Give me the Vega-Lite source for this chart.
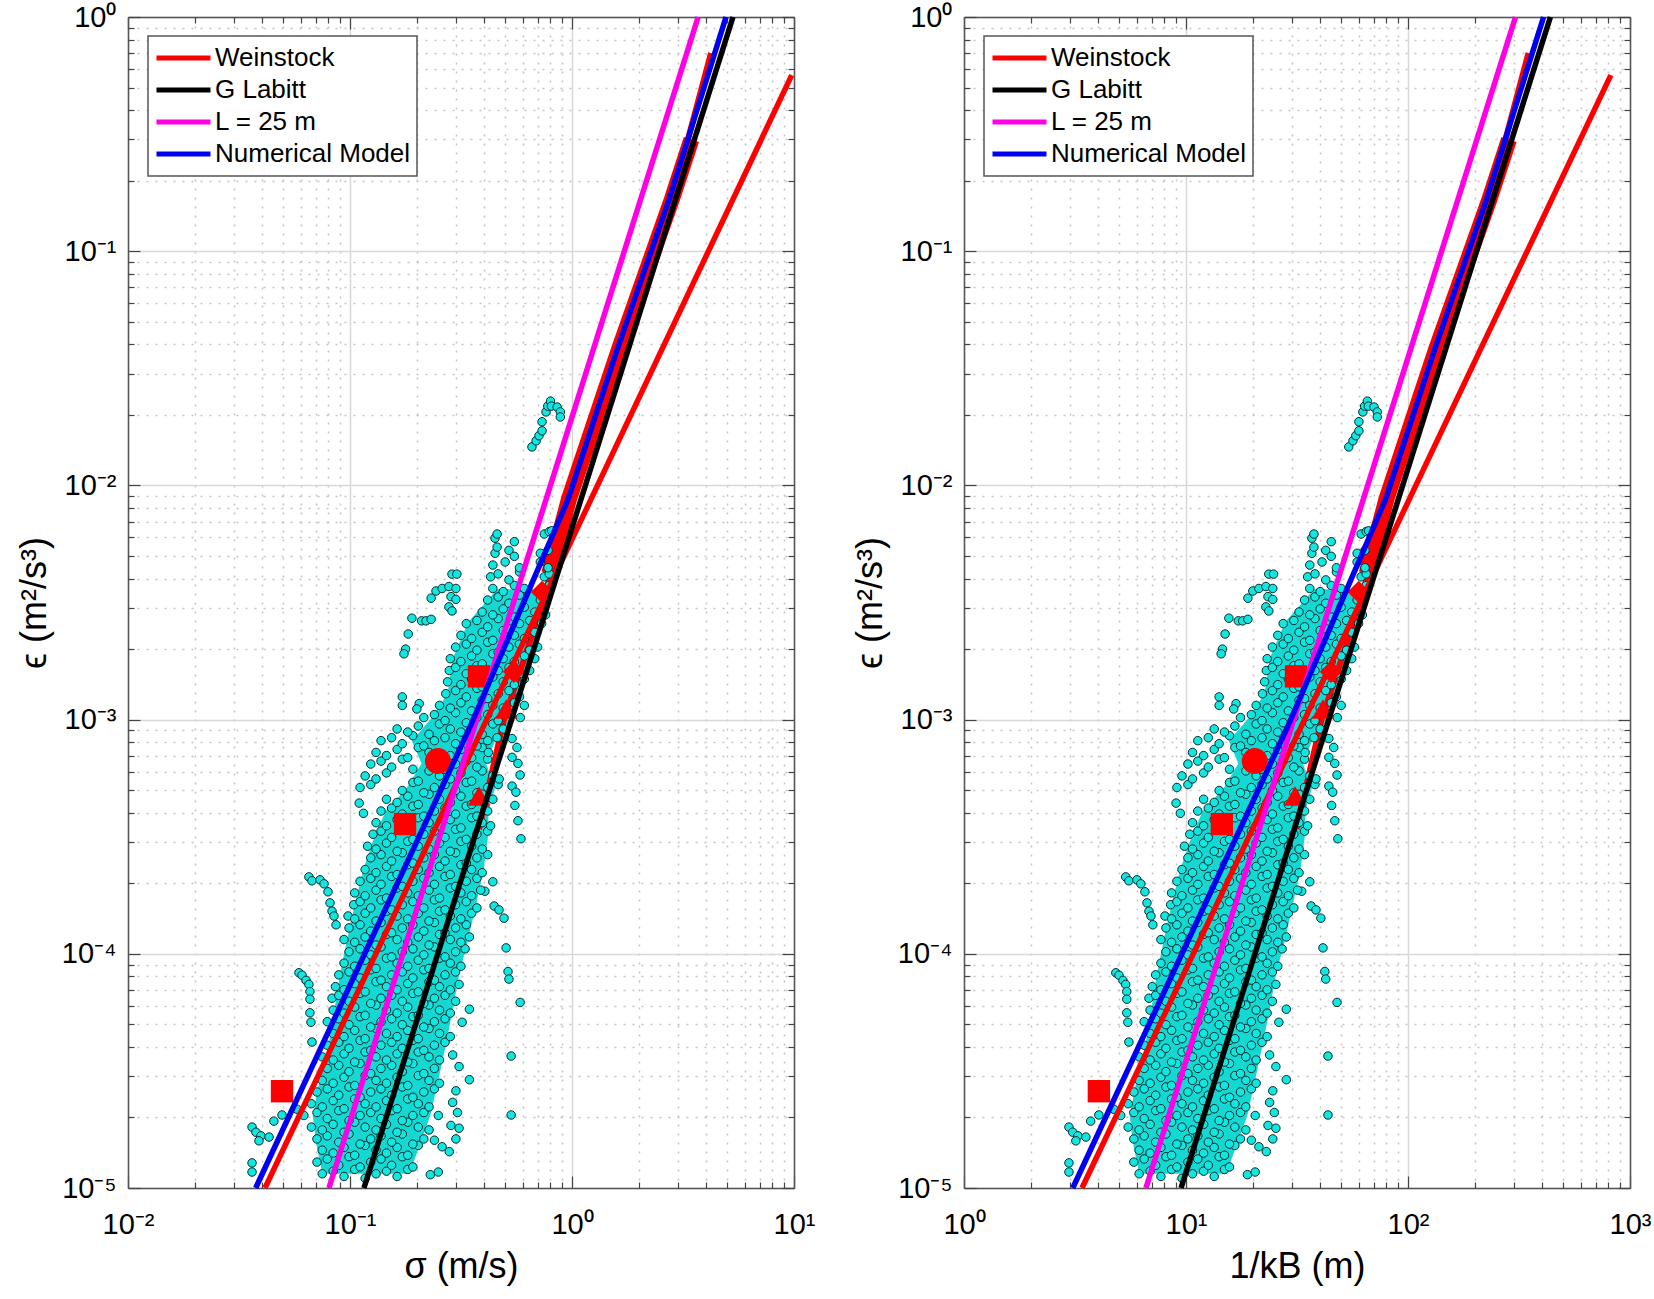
{"$schema":"https://vega.github.io/schema/vega-lite/v6.json","background":"white","padding":{"left":16,"top":3,"right":5,"bottom":2},"spacing":37,
"config":{"view":{"stroke":null},"font":"Liberation Sans","legend":{"strokeWidth":1.5},"axis":{"labelFont":"Liberation Sans","titleFont":"Liberation Sans","labelColor":"black","titleColor":"black"}},
"datasets":{
"env":[{"e":1.15e-5,"s1":0.075,"k1":6.15,"s2":0.185,"k2":15.2},{"e":1.6e-5,"s1":0.07,"k1":5.74,"s2":0.21,"k2":17.2},{"e":2.04e-5,"s1":0.068,"k1":5.58,"s2":0.23,"k2":18.9},{"e":2.9e-5,"s1":0.073,"k1":5.99,"s2":0.25,"k2":20.5},{"e":4.07e-5,"s1":0.08,"k1":6.56,"s2":0.27,"k2":22.1},{"e":5.75e-5,"s1":0.085,"k1":6.97,"s2":0.29,"k2":23.8},{"e":8.1e-5,"s1":0.09,"k1":7.38,"s2":0.31,"k2":25.4},{"e":1.15e-4,"s1":0.097,"k1":7.95,"s2":0.34,"k2":27.9},{"e":1.62e-4,"s1":0.105,"k1":8.61,"s2":0.37,"k2":30.3},{"e":2.3e-4,"s1":0.115,"k1":9.43,"s2":0.4,"k2":32.8},{"e":3.24e-4,"s1":0.13,"k1":10.7,"s2":0.42,"k2":34.4},{"e":4.07e-4,"s1":0.145,"k1":11.9,"s2":0.42,"k2":34.4},{"e":5.1e-4,"s1":0.18,"k1":14.8,"s2":0.45,"k2":36.9},{"e":6.5e-4,"s1":0.21,"k1":17.2,"s2":0.41,"k2":33.6},{"e":8.1e-4,"s1":0.19,"k1":15.6,"s2":0.45,"k2":36.9},{"e":0.001,"s1":0.23,"k1":18.9,"s2":0.55,"k2":45.1},{"e":0.00129,"s1":0.275,"k1":22.6,"s2":0.58,"k2":47.6},{"e":0.00182,"s1":0.29,"k1":23.8,"s2":0.64,"k2":52.5},{"e":0.0026,"s1":0.34,"k1":27.9,"s2":0.7,"k2":57.4},{"e":0.0036,"s1":0.46,"k1":37.7,"s2":0.72,"k2":59}],
"pts":[
{"s":0.66,"k":54.1,"e":0.0146},{"s":0.689,"k":56.5,"e":0.0155},{"s":0.71,"k":58.2,"e":0.0163},{"s":0.733,"k":60.1,"e":0.0171},{"s":0.733,"k":60.1,"e":0.0187},{"s":0.764,"k":62.6,"e":0.0206},{"s":0.778,"k":63.8,"e":0.0218},{"s":0.8,"k":65.6,"e":0.0229},{"s":0.808,"k":66.3,"e":0.0218},{"s":0.857,"k":70.3,"e":0.0216},{"s":0.886,"k":72.7,"e":0.0206},{"s":0.886,"k":72.7,"e":0.0196},
{"s":0.232,"k":19,"e":0.0033},{"s":0.244,"k":20,"e":0.00354},{"s":0.26,"k":21.3,"e":0.00363},{"s":0.279,"k":22.9,"e":0.0037},{"s":0.288,"k":23.6,"e":0.00418},{"s":0.303,"k":24.8,"e":0.00418},{"s":0.3,"k":24.6,"e":0.00363},{"s":0.285,"k":23.4,"e":0.00335},{"s":0.3,"k":24.6,"e":0.00326},{"s":0.279,"k":22.9,"e":0.00303},{"s":0.288,"k":23.6,"e":0.00291},
{"s":0.19,"k":15.6,"e":0.00271},{"s":0.21,"k":17.2,"e":0.00264},{"s":0.22,"k":18,"e":0.00264},{"s":0.232,"k":19,"e":0.00268},{"s":0.183,"k":15,"e":0.00232},{"s":0.178,"k":14.6,"e":0.002},{"s":0.175,"k":14.4,"e":0.00191},{"s":0.172,"k":14.1,"e":0.00125},{"s":0.172,"k":14.1,"e":0.00115},{"s":0.205,"k":16.8,"e":0.00117},{"s":0.2,"k":16.4,"e":0.00111},
{"s":0.537,"k":44,"e":8.3e-4},{"s":0.565,"k":46.3,"e":7.6e-4},{"s":0.537,"k":44,"e":6.9e-4},{"s":0.571,"k":46.8,"e":6.5e-4},{"s":0.584,"k":47.9,"e":5.8e-4},{"s":0.537,"k":44,"e":5.2e-4},{"s":0.559,"k":45.8,"e":4.9e-4},{"s":0.553,"k":45.3,"e":4.3e-4},{"s":0.571,"k":46.8,"e":3.7e-4},{"s":0.589,"k":48.3,"e":3.1e-4},
{"s":0.446,"k":36.6,"e":1.6e-4},{"s":0.469,"k":38.5,"e":1.54e-4},{"s":0.494,"k":40.5,"e":1.42e-4},{"s":0.44,"k":36.1,"e":2.03e-4},{"s":0.405,"k":33.2,"e":1.85e-4},{"s":0.505,"k":41.4,"e":1.06e-4},{"s":0.515,"k":42.2,"e":8.4e-5},{"s":0.52,"k":42.6,"e":7.8e-5},{"s":0.584,"k":47.9,"e":6.2e-5},{"s":0.532,"k":43.6,"e":3.66e-5},{"s":0.532,"k":43.6,"e":2.05e-5},
{"s":0.0653,"k":5.35,"e":2.13e-4},{"s":0.0674,"k":5.53,"e":2.05e-4},{"s":0.0733,"k":6.01,"e":2.07e-4},{"s":0.0764,"k":6.26,"e":1.99e-4},{"s":0.0796,"k":6.53,"e":1.84e-4},{"s":0.0813,"k":6.67,"e":1.65e-4},{"s":0.083,"k":6.81,"e":1.52e-4},{"s":0.0847,"k":6.95,"e":1.45e-4},{"s":0.0865,"k":7.09,"e":1.33e-4},
{"s":0.0589,"k":4.83,"e":8.3e-5},{"s":0.0608,"k":4.99,"e":8.1e-5},{"s":0.0634,"k":5.2,"e":7.7e-5},{"s":0.0653,"k":5.35,"e":7.4e-5},{"s":0.066,"k":5.41,"e":6.9e-5},{"s":0.066,"k":5.41,"e":6.4e-5},{"s":0.066,"k":5.41,"e":5.6e-5},{"s":0.0667,"k":5.47,"e":5.1e-5},{"s":0.0674,"k":5.53,"e":4.2e-5},
{"s":0.0362,"k":2.97,"e":1.82e-5},{"s":0.0377,"k":3.09,"e":1.73e-5},{"s":0.0397,"k":3.26,"e":1.67e-5},{"s":0.0389,"k":3.19,"e":1.59e-5},{"s":0.0432,"k":3.54,"e":1.65e-5},{"s":0.0454,"k":3.72,"e":1.93e-5},{"s":0.0494,"k":4.05,"e":2.05e-5},{"s":0.0577,"k":4.73,"e":2.17e-5},{"s":0.0362,"k":2.97,"e":1.28e-5},{"s":0.0362,"k":2.97,"e":1.17e-5},
{"s":0.075,"k":6.15,"e":1.15e-5},{"s":0.084,"k":6.89,"e":1.18e-5},{"s":0.094,"k":7.71,"e":1.12e-5},{"s":0.105,"k":8.61,"e":1.2e-5},{"s":0.117,"k":9.59,"e":1.1e-5},{"s":0.131,"k":10.7,"e":1.15e-5},{"s":0.146,"k":12,"e":1.18e-5},{"s":0.163,"k":13.4,"e":1.12e-5},{"s":0.182,"k":14.9,"e":1.2e-5},{"s":0.23,"k":18.9,"e":1.14e-5},{"s":0.25,"k":20.5,"e":1.17e-5},
{"s":0.071,"k":5.82,"e":1.29e-5},{"s":0.079,"k":6.48,"e":1.33e-5},{"s":0.089,"k":7.3,"e":1.25e-5},{"s":0.099,"k":8.12,"e":1.36e-5},{"s":0.111,"k":9.1,"e":1.23e-5},{"s":0.124,"k":10.2,"e":1.29e-5},{"s":0.138,"k":11.3,"e":1.33e-5},{"s":0.154,"k":12.6,"e":1.25e-5},{"s":0.172,"k":14.1,"e":1.36e-5},{"s":0.192,"k":15.7,"e":1.23e-5},
{"s":0.075,"k":6.15,"e":1.45e-5},{"s":0.084,"k":6.89,"e":1.41e-5},{"s":0.094,"k":7.71,"e":1.49e-5},{"s":0.105,"k":8.61,"e":1.38e-5},{"s":0.117,"k":9.59,"e":1.52e-5},{"s":0.131,"k":10.7,"e":1.45e-5},{"s":0.146,"k":12,"e":1.41e-5},{"s":0.163,"k":13.4,"e":1.49e-5},{"s":0.182,"k":14.9,"e":1.38e-5},{"s":0.203,"k":16.6,"e":1.52e-5},{"s":0.28,"k":23,"e":1.43e-5},{"s":0.26,"k":21.3,"e":1.5e-5},
{"s":0.071,"k":5.82,"e":1.62e-5},{"s":0.079,"k":6.48,"e":1.67e-5},{"s":0.089,"k":7.3,"e":1.57e-5},{"s":0.099,"k":8.12,"e":1.7e-5},{"s":0.111,"k":9.1,"e":1.54e-5},{"s":0.124,"k":10.2,"e":1.62e-5},{"s":0.138,"k":11.3,"e":1.67e-5},{"s":0.154,"k":12.6,"e":1.57e-5},{"s":0.172,"k":14.1,"e":1.7e-5},{"s":0.192,"k":15.7,"e":1.54e-5},{"s":0.215,"k":17.6,"e":1.62e-5},{"s":0.24,"k":19.7,"e":1.6e-5},{"s":0.3,"k":24.6,"e":1.62e-5},
{"s":0.067,"k":5.49,"e":1.82e-5},{"s":0.075,"k":6.15,"e":1.77e-5},{"s":0.084,"k":6.89,"e":1.87e-5},{"s":0.094,"k":7.71,"e":1.73e-5},{"s":0.105,"k":8.61,"e":1.91e-5},{"s":0.117,"k":9.59,"e":1.82e-5},{"s":0.131,"k":10.7,"e":1.77e-5},{"s":0.146,"k":12,"e":1.87e-5},{"s":0.163,"k":13.4,"e":1.73e-5},{"s":0.182,"k":14.9,"e":1.91e-5},{"s":0.203,"k":16.6,"e":1.82e-5},{"s":0.227,"k":18.6,"e":1.77e-5},{"s":0.285,"k":23.4,"e":1.85e-5},{"s":0.31,"k":25.4,"e":1.8e-5},
{"s":0.062,"k":5.08,"e":2.04e-5},{"s":0.071,"k":5.82,"e":2.1e-5},{"s":0.079,"k":6.48,"e":1.98e-5},{"s":0.089,"k":7.3,"e":2.14e-5},{"s":0.099,"k":8.12,"e":1.94e-5},{"s":0.111,"k":9.1,"e":2.04e-5},{"s":0.124,"k":10.2,"e":2.1e-5},{"s":0.138,"k":11.3,"e":1.98e-5},{"s":0.154,"k":12.6,"e":2.14e-5},{"s":0.172,"k":14.1,"e":1.94e-5},{"s":0.192,"k":15.7,"e":2.04e-5},{"s":0.215,"k":17.6,"e":2.1e-5},{"s":0.25,"k":20.5,"e":2.04e-5},{"s":0.305,"k":25,"e":2.1e-5},
{"s":0.067,"k":5.49,"e":2.29e-5},{"s":0.075,"k":6.15,"e":2.22e-5},{"s":0.084,"k":6.89,"e":2.36e-5},{"s":0.094,"k":7.71,"e":2.18e-5},{"s":0.105,"k":8.61,"e":2.4e-5},{"s":0.117,"k":9.59,"e":2.29e-5},{"s":0.131,"k":10.7,"e":2.22e-5},{"s":0.146,"k":12,"e":2.36e-5},{"s":0.163,"k":13.4,"e":2.18e-5},{"s":0.182,"k":14.9,"e":2.4e-5},{"s":0.203,"k":16.6,"e":2.29e-5},{"s":0.227,"k":18.6,"e":2.22e-5},{"s":0.29,"k":23.8,"e":2.32e-5},
{"s":0.071,"k":5.82,"e":2.57e-5},{"s":0.079,"k":6.48,"e":2.65e-5},{"s":0.089,"k":7.3,"e":2.49e-5},{"s":0.099,"k":8.12,"e":2.7e-5},{"s":0.111,"k":9.1,"e":2.44e-5},{"s":0.124,"k":10.2,"e":2.57e-5},{"s":0.138,"k":11.3,"e":2.65e-5},{"s":0.154,"k":12.6,"e":2.49e-5},{"s":0.172,"k":14.1,"e":2.7e-5},{"s":0.192,"k":15.7,"e":2.44e-5},{"s":0.215,"k":17.6,"e":2.57e-5},{"s":0.24,"k":19.7,"e":2.65e-5},{"s":0.3,"k":24.6,"e":2.6e-5},
{"s":0.075,"k":6.15,"e":2.88e-5},{"s":0.084,"k":6.89,"e":2.8e-5},{"s":0.094,"k":7.71,"e":2.97e-5},{"s":0.105,"k":8.61,"e":2.74e-5},{"s":0.117,"k":9.59,"e":3.02e-5},{"s":0.131,"k":10.7,"e":2.88e-5},{"s":0.146,"k":12,"e":2.8e-5},{"s":0.163,"k":13.4,"e":2.97e-5},{"s":0.182,"k":14.9,"e":2.74e-5},{"s":0.203,"k":16.6,"e":3.02e-5},{"s":0.227,"k":18.6,"e":2.88e-5},{"s":0.253,"k":20.7,"e":2.8e-5},{"s":0.345,"k":28.3,"e":2.9e-5},
{"s":0.079,"k":6.48,"e":3.24e-5},{"s":0.089,"k":7.3,"e":3.34e-5},{"s":0.099,"k":8.12,"e":3.14e-5},{"s":0.111,"k":9.1,"e":3.4e-5},{"s":0.124,"k":10.2,"e":3.08e-5},{"s":0.138,"k":11.3,"e":3.24e-5},{"s":0.154,"k":12.6,"e":3.34e-5},{"s":0.172,"k":14.1,"e":3.14e-5},{"s":0.192,"k":15.7,"e":3.4e-5},{"s":0.215,"k":17.6,"e":3.08e-5},{"s":0.24,"k":19.7,"e":3.24e-5},{"s":0.31,"k":25.4,"e":3.3e-5},
{"s":0.075,"k":6.15,"e":3.63e-5},{"s":0.084,"k":6.89,"e":3.52e-5},{"s":0.094,"k":7.71,"e":3.74e-5},{"s":0.105,"k":8.61,"e":3.45e-5},{"s":0.117,"k":9.59,"e":3.81e-5},{"s":0.131,"k":10.7,"e":3.63e-5},{"s":0.146,"k":12,"e":3.52e-5},{"s":0.163,"k":13.4,"e":3.74e-5},{"s":0.182,"k":14.9,"e":3.45e-5},{"s":0.203,"k":16.6,"e":3.81e-5},{"s":0.227,"k":18.6,"e":3.63e-5},{"s":0.253,"k":20.7,"e":3.52e-5},{"s":0.29,"k":23.8,"e":3.7e-5},
{"s":0.079,"k":6.48,"e":4.07e-5},{"s":0.089,"k":7.3,"e":4.19e-5},{"s":0.099,"k":8.12,"e":3.95e-5},{"s":0.111,"k":9.1,"e":4.27e-5},{"s":0.124,"k":10.2,"e":3.87e-5},{"s":0.138,"k":11.3,"e":4.07e-5},{"s":0.154,"k":12.6,"e":4.19e-5},{"s":0.172,"k":14.1,"e":3.95e-5},{"s":0.192,"k":15.7,"e":4.27e-5},{"s":0.215,"k":17.6,"e":3.87e-5},{"s":0.24,"k":19.7,"e":4.07e-5},{"s":0.268,"k":22,"e":4.19e-5},
{"s":0.084,"k":6.89,"e":4.57e-5},{"s":0.094,"k":7.71,"e":4.43e-5},{"s":0.105,"k":8.61,"e":4.71e-5},{"s":0.117,"k":9.59,"e":4.34e-5},{"s":0.131,"k":10.7,"e":4.8e-5},{"s":0.146,"k":12,"e":4.57e-5},{"s":0.163,"k":13.4,"e":4.43e-5},{"s":0.182,"k":14.9,"e":4.71e-5},{"s":0.203,"k":16.6,"e":4.34e-5},{"s":0.227,"k":18.6,"e":4.8e-5},{"s":0.253,"k":20.7,"e":4.57e-5},{"s":0.283,"k":23.2,"e":4.43e-5},
{"s":0.079,"k":6.48,"e":5.13e-5},{"s":0.089,"k":7.3,"e":5.28e-5},{"s":0.099,"k":8.12,"e":4.98e-5},{"s":0.111,"k":9.1,"e":5.39e-5},{"s":0.124,"k":10.2,"e":4.87e-5},{"s":0.138,"k":11.3,"e":5.13e-5},{"s":0.154,"k":12.6,"e":5.28e-5},{"s":0.172,"k":14.1,"e":4.98e-5},{"s":0.192,"k":15.7,"e":5.39e-5},{"s":0.215,"k":17.6,"e":4.87e-5},{"s":0.24,"k":19.7,"e":5.13e-5},{"s":0.268,"k":22,"e":5.28e-5},{"s":0.32,"k":26.2,"e":5.1e-5},
{"s":0.084,"k":6.89,"e":5.75e-5},{"s":0.094,"k":7.71,"e":5.58e-5},{"s":0.105,"k":8.61,"e":5.92e-5},{"s":0.117,"k":9.59,"e":5.46e-5},{"s":0.131,"k":10.7,"e":6.04e-5},{"s":0.146,"k":12,"e":5.75e-5},{"s":0.163,"k":13.4,"e":5.58e-5},{"s":0.182,"k":14.9,"e":5.92e-5},{"s":0.203,"k":16.6,"e":5.46e-5},{"s":0.227,"k":18.6,"e":6.04e-5},{"s":0.253,"k":20.7,"e":5.75e-5},{"s":0.283,"k":23.2,"e":5.58e-5},{"s":0.345,"k":28.3,"e":5.8e-5},
{"s":0.083,"k":6.81,"e":6.46e-5},{"s":0.089,"k":7.3,"e":6.65e-5},{"s":0.099,"k":8.12,"e":6.27e-5},{"s":0.111,"k":9.1,"e":6.78e-5},{"s":0.124,"k":10.2,"e":6.14e-5},{"s":0.138,"k":11.3,"e":6.46e-5},{"s":0.154,"k":12.6,"e":6.65e-5},{"s":0.172,"k":14.1,"e":6.27e-5},{"s":0.192,"k":15.7,"e":6.78e-5},{"s":0.215,"k":17.6,"e":6.14e-5},{"s":0.24,"k":19.7,"e":6.46e-5},{"s":0.268,"k":22,"e":6.65e-5},{"s":0.299,"k":24.5,"e":6.27e-5},
{"s":0.086,"k":7.05,"e":7.24e-5},{"s":0.094,"k":7.71,"e":7.02e-5},{"s":0.105,"k":8.61,"e":7.46e-5},{"s":0.117,"k":9.59,"e":6.88e-5},{"s":0.131,"k":10.7,"e":7.6e-5},{"s":0.146,"k":12,"e":7.24e-5},{"s":0.163,"k":13.4,"e":7.02e-5},{"s":0.182,"k":14.9,"e":7.46e-5},{"s":0.203,"k":16.6,"e":6.88e-5},{"s":0.227,"k":18.6,"e":7.6e-5},{"s":0.253,"k":20.7,"e":7.24e-5},{"s":0.283,"k":23.2,"e":7.02e-5},{"s":0.31,"k":25.4,"e":7.4e-5},
{"s":0.089,"k":7.3,"e":8.13e-5},{"s":0.099,"k":8.12,"e":8.37e-5},{"s":0.111,"k":9.1,"e":7.89e-5},{"s":0.124,"k":10.2,"e":8.54e-5},{"s":0.138,"k":11.3,"e":7.72e-5},{"s":0.154,"k":12.6,"e":8.13e-5},{"s":0.172,"k":14.1,"e":8.37e-5},{"s":0.192,"k":15.7,"e":7.89e-5},{"s":0.215,"k":17.6,"e":8.54e-5},{"s":0.24,"k":19.7,"e":7.72e-5},{"s":0.268,"k":22,"e":8.13e-5},{"s":0.299,"k":24.5,"e":8.37e-5},
{"s":0.094,"k":7.71,"e":9.12e-5},{"s":0.105,"k":8.61,"e":8.85e-5},{"s":0.117,"k":9.59,"e":9.39e-5},{"s":0.131,"k":10.7,"e":8.66e-5},{"s":0.146,"k":12,"e":9.58e-5},{"s":0.163,"k":13.4,"e":9.12e-5},{"s":0.182,"k":14.9,"e":8.85e-5},{"s":0.203,"k":16.6,"e":9.39e-5},{"s":0.227,"k":18.6,"e":8.66e-5},{"s":0.253,"k":20.7,"e":9.58e-5},{"s":0.283,"k":23.2,"e":9.12e-5},{"s":0.316,"k":25.9,"e":8.85e-5},
{"s":0.099,"k":8.12,"e":1.02e-4},{"s":0.111,"k":9.1,"e":1.05e-4},{"s":0.124,"k":10.2,"e":9.9e-5},{"s":0.138,"k":11.3,"e":1.07e-4},{"s":0.154,"k":12.6,"e":9.7e-5},{"s":0.172,"k":14.1,"e":1.02e-4},{"s":0.192,"k":15.7,"e":1.05e-4},{"s":0.215,"k":17.6,"e":9.9e-5},{"s":0.24,"k":19.7,"e":1.07e-4},{"s":0.268,"k":22,"e":9.7e-5},{"s":0.299,"k":24.5,"e":1.02e-4},{"s":0.33,"k":27.1,"e":1.05e-4},
{"s":0.094,"k":7.71,"e":1.15e-4},{"s":0.105,"k":8.61,"e":1.12e-4},{"s":0.117,"k":9.59,"e":1.18e-4},{"s":0.131,"k":10.7,"e":1.09e-4},{"s":0.146,"k":12,"e":1.21e-4},{"s":0.163,"k":13.4,"e":1.15e-4},{"s":0.182,"k":14.9,"e":1.12e-4},{"s":0.203,"k":16.6,"e":1.18e-4},{"s":0.227,"k":18.6,"e":1.09e-4},{"s":0.253,"k":20.7,"e":1.21e-4},{"s":0.283,"k":23.2,"e":1.15e-4},{"s":0.316,"k":25.9,"e":1.12e-4},{"s":0.345,"k":28.3,"e":1.18e-4},
{"s":0.099,"k":8.12,"e":1.29e-4},{"s":0.111,"k":9.1,"e":1.33e-4},{"s":0.124,"k":10.2,"e":1.25e-4},{"s":0.138,"k":11.3,"e":1.36e-4},{"s":0.154,"k":12.6,"e":1.23e-4},{"s":0.172,"k":14.1,"e":1.29e-4},{"s":0.192,"k":15.7,"e":1.33e-4},{"s":0.215,"k":17.6,"e":1.25e-4},{"s":0.24,"k":19.7,"e":1.36e-4},{"s":0.268,"k":22,"e":1.23e-4},{"s":0.299,"k":24.5,"e":1.29e-4},{"s":0.334,"k":27.4,"e":1.33e-4},
{"s":0.098,"k":8.04,"e":1.45e-4},{"s":0.105,"k":8.61,"e":1.41e-4},{"s":0.117,"k":9.59,"e":1.49e-4},{"s":0.131,"k":10.7,"e":1.38e-4},{"s":0.146,"k":12,"e":1.52e-4},{"s":0.163,"k":13.4,"e":1.45e-4},{"s":0.182,"k":14.9,"e":1.41e-4},{"s":0.203,"k":16.6,"e":1.49e-4},{"s":0.227,"k":18.6,"e":1.38e-4},{"s":0.253,"k":20.7,"e":1.52e-4},{"s":0.283,"k":23.2,"e":1.45e-4},{"s":0.316,"k":25.9,"e":1.41e-4},{"s":0.353,"k":28.9,"e":1.49e-4},
{"s":0.104,"k":8.53,"e":1.62e-4},{"s":0.111,"k":9.1,"e":1.67e-4},{"s":0.124,"k":10.2,"e":1.57e-4},{"s":0.138,"k":11.3,"e":1.7e-4},{"s":0.154,"k":12.6,"e":1.54e-4},{"s":0.172,"k":14.1,"e":1.62e-4},{"s":0.192,"k":15.7,"e":1.67e-4},{"s":0.215,"k":17.6,"e":1.57e-4},{"s":0.24,"k":19.7,"e":1.7e-4},{"s":0.268,"k":22,"e":1.54e-4},{"s":0.299,"k":24.5,"e":1.62e-4},{"s":0.334,"k":27.4,"e":1.67e-4},{"s":0.373,"k":30.6,"e":1.57e-4},
{"s":0.105,"k":8.61,"e":1.82e-4},{"s":0.117,"k":9.59,"e":1.77e-4},{"s":0.131,"k":10.7,"e":1.87e-4},{"s":0.146,"k":12,"e":1.73e-4},{"s":0.163,"k":13.4,"e":1.91e-4},{"s":0.182,"k":14.9,"e":1.82e-4},{"s":0.203,"k":16.6,"e":1.77e-4},{"s":0.227,"k":18.6,"e":1.87e-4},{"s":0.253,"k":20.7,"e":1.73e-4},{"s":0.283,"k":23.2,"e":1.91e-4},{"s":0.316,"k":25.9,"e":1.82e-4},{"s":0.353,"k":28.9,"e":1.77e-4},{"s":0.388,"k":31.8,"e":1.87e-4},
{"s":0.111,"k":9.1,"e":2.04e-4},{"s":0.124,"k":10.2,"e":2.1e-4},{"s":0.138,"k":11.3,"e":1.98e-4},{"s":0.154,"k":12.6,"e":2.14e-4},{"s":0.172,"k":14.1,"e":1.94e-4},{"s":0.192,"k":15.7,"e":2.04e-4},{"s":0.215,"k":17.6,"e":2.1e-4},{"s":0.24,"k":19.7,"e":1.98e-4},{"s":0.268,"k":22,"e":2.14e-4},{"s":0.299,"k":24.5,"e":1.94e-4},{"s":0.334,"k":27.4,"e":2.04e-4},{"s":0.373,"k":30.6,"e":2.1e-4},
{"s":0.117,"k":9.59,"e":2.29e-4},{"s":0.131,"k":10.7,"e":2.22e-4},{"s":0.146,"k":12,"e":2.36e-4},{"s":0.163,"k":13.4,"e":2.18e-4},{"s":0.182,"k":14.9,"e":2.4e-4},{"s":0.203,"k":16.6,"e":2.29e-4},{"s":0.227,"k":18.6,"e":2.22e-4},{"s":0.253,"k":20.7,"e":2.36e-4},{"s":0.283,"k":23.2,"e":2.18e-4},{"s":0.316,"k":25.9,"e":2.4e-4},{"s":0.353,"k":28.9,"e":2.29e-4},{"s":0.394,"k":32.3,"e":2.22e-4},
{"s":0.124,"k":10.2,"e":2.57e-4},{"s":0.138,"k":11.3,"e":2.65e-4},{"s":0.154,"k":12.6,"e":2.49e-4},{"s":0.172,"k":14.1,"e":2.7e-4},{"s":0.192,"k":15.7,"e":2.44e-4},{"s":0.215,"k":17.6,"e":2.57e-4},{"s":0.24,"k":19.7,"e":2.65e-4},{"s":0.268,"k":22,"e":2.49e-4},{"s":0.299,"k":24.5,"e":2.7e-4},{"s":0.334,"k":27.4,"e":2.44e-4},{"s":0.373,"k":30.6,"e":2.57e-4},{"s":0.417,"k":34.2,"e":2.65e-4},
{"s":0.12,"k":9.84,"e":2.88e-4},{"s":0.131,"k":10.7,"e":2.8e-4},{"s":0.146,"k":12,"e":2.97e-4},{"s":0.163,"k":13.4,"e":2.74e-4},{"s":0.182,"k":14.9,"e":3.02e-4},{"s":0.203,"k":16.6,"e":2.88e-4},{"s":0.227,"k":18.6,"e":2.8e-4},{"s":0.253,"k":20.7,"e":2.97e-4},{"s":0.283,"k":23.2,"e":2.74e-4},{"s":0.316,"k":25.9,"e":3.02e-4},{"s":0.353,"k":28.9,"e":2.88e-4},{"s":0.394,"k":32.3,"e":2.8e-4},
{"s":0.127,"k":10.4,"e":3.24e-4},{"s":0.138,"k":11.3,"e":3.34e-4},{"s":0.154,"k":12.6,"e":3.14e-4},{"s":0.172,"k":14.1,"e":3.4e-4},{"s":0.192,"k":15.7,"e":3.08e-4},{"s":0.215,"k":17.6,"e":3.24e-4},{"s":0.24,"k":19.7,"e":3.34e-4},{"s":0.268,"k":22,"e":3.14e-4},{"s":0.299,"k":24.5,"e":3.4e-4},{"s":0.334,"k":27.4,"e":3.08e-4},{"s":0.373,"k":30.6,"e":3.24e-4},{"s":0.417,"k":34.2,"e":3.34e-4},
{"s":0.131,"k":10.7,"e":3.63e-4},{"s":0.146,"k":12,"e":3.52e-4},{"s":0.163,"k":13.4,"e":3.74e-4},{"s":0.182,"k":14.9,"e":3.45e-4},{"s":0.203,"k":16.6,"e":3.81e-4},{"s":0.227,"k":18.6,"e":3.63e-4},{"s":0.253,"k":20.7,"e":3.52e-4},{"s":0.283,"k":23.2,"e":3.74e-4},{"s":0.316,"k":25.9,"e":3.45e-4},{"s":0.353,"k":28.9,"e":3.81e-4},{"s":0.394,"k":32.3,"e":3.63e-4},{"s":0.43,"k":35.3,"e":3.52e-4},
{"s":0.138,"k":11.3,"e":4.07e-4},{"s":0.154,"k":12.6,"e":4.19e-4},{"s":0.172,"k":14.1,"e":3.95e-4},{"s":0.192,"k":15.7,"e":4.27e-4},{"s":0.215,"k":17.6,"e":3.87e-4},{"s":0.24,"k":19.7,"e":4.07e-4},{"s":0.268,"k":22,"e":4.19e-4},{"s":0.299,"k":24.5,"e":3.95e-4},{"s":0.334,"k":27.4,"e":4.27e-4},{"s":0.373,"k":30.6,"e":3.87e-4},{"s":0.417,"k":34.2,"e":4.07e-4},{"s":0.11,"k":9.02,"e":4.4e-4},{"s":0.115,"k":9.43,"e":3.98e-4},
{"s":0.146,"k":12,"e":4.57e-4},{"s":0.163,"k":13.4,"e":4.43e-4},{"s":0.182,"k":14.9,"e":4.71e-4},{"s":0.203,"k":16.6,"e":4.34e-4},{"s":0.227,"k":18.6,"e":4.8e-4},{"s":0.253,"k":20.7,"e":4.57e-4},{"s":0.283,"k":23.2,"e":4.43e-4},{"s":0.316,"k":25.9,"e":4.71e-4},{"s":0.353,"k":28.9,"e":4.34e-4},{"s":0.394,"k":32.3,"e":4.8e-4},{"s":0.44,"k":36.1,"e":4.57e-4},
{"s":0.111,"k":9.1,"e":5.13e-4},{"s":0.124,"k":10.2,"e":5.28e-4},{"s":0.172,"k":14.1,"e":4.98e-4},{"s":0.192,"k":15.7,"e":5.39e-4},{"s":0.215,"k":17.6,"e":4.87e-4},{"s":0.24,"k":19.7,"e":5.13e-4},{"s":0.268,"k":22,"e":5.28e-4},{"s":0.299,"k":24.5,"e":4.98e-4},{"s":0.334,"k":27.4,"e":5.39e-4},{"s":0.373,"k":30.6,"e":4.87e-4},{"s":0.417,"k":34.2,"e":5.13e-4},{"s":0.465,"k":38.1,"e":5.28e-4},
{"s":0.117,"k":9.59,"e":5.75e-4},{"s":0.131,"k":10.7,"e":5.58e-4},{"s":0.146,"k":12,"e":5.92e-4},{"s":0.203,"k":16.6,"e":5.46e-4},{"s":0.227,"k":18.6,"e":6.04e-4},{"s":0.253,"k":20.7,"e":5.75e-4},{"s":0.283,"k":23.2,"e":5.58e-4},{"s":0.316,"k":25.9,"e":5.92e-4},{"s":0.353,"k":28.9,"e":5.46e-4},{"s":0.394,"k":32.3,"e":6.04e-4},{"s":0.44,"k":36.1,"e":5.75e-4},{"s":0.47,"k":38.5,"e":5.58e-4},
{"s":0.124,"k":10.2,"e":6.46e-4},{"s":0.138,"k":11.3,"e":6.65e-4},{"s":0.154,"k":12.6,"e":6.27e-4},{"s":0.172,"k":14.1,"e":6.78e-4},{"s":0.268,"k":22,"e":6.14e-4},{"s":0.299,"k":24.5,"e":6.46e-4},{"s":0.334,"k":27.4,"e":6.65e-4},{"s":0.373,"k":30.6,"e":6.27e-4},{"s":0.417,"k":34.2,"e":6.78e-4},{"s":0.192,"k":15.7,"e":6.14e-4},
{"s":0.131,"k":10.7,"e":7.24e-4},{"s":0.146,"k":12,"e":7.02e-4},{"s":0.163,"k":13.4,"e":7.46e-4},{"s":0.182,"k":14.9,"e":6.88e-4},{"s":0.203,"k":16.6,"e":7.6e-4},{"s":0.227,"k":18.6,"e":7.24e-4},{"s":0.283,"k":23.2,"e":7.02e-4},{"s":0.316,"k":25.9,"e":7.46e-4},{"s":0.353,"k":28.9,"e":6.88e-4},{"s":0.394,"k":32.3,"e":7.6e-4},{"s":0.42,"k":34.4,"e":7.24e-4},
{"s":0.138,"k":11.3,"e":8.13e-4},{"s":0.154,"k":12.6,"e":8.37e-4},{"s":0.172,"k":14.1,"e":7.89e-4},{"s":0.192,"k":15.7,"e":8.54e-4},{"s":0.215,"k":17.6,"e":7.72e-4},{"s":0.24,"k":19.7,"e":8.13e-4},{"s":0.268,"k":22,"e":8.37e-4},{"s":0.299,"k":24.5,"e":7.89e-4},{"s":0.334,"k":27.4,"e":8.54e-4},{"s":0.373,"k":30.6,"e":7.72e-4},{"s":0.417,"k":34.2,"e":8.13e-4},{"s":0.46,"k":37.7,"e":8.37e-4},
{"s":0.163,"k":13.4,"e":9.12e-4},{"s":0.182,"k":14.9,"e":8.85e-4},{"s":0.203,"k":16.6,"e":9.39e-4},{"s":0.227,"k":18.6,"e":8.66e-4},{"s":0.253,"k":20.7,"e":9.58e-4},{"s":0.283,"k":23.2,"e":9.12e-4},{"s":0.316,"k":25.9,"e":8.85e-4},{"s":0.353,"k":28.9,"e":9.39e-4},{"s":0.394,"k":32.3,"e":8.66e-4},{"s":0.44,"k":36.1,"e":9.58e-4},{"s":0.49,"k":40.2,"e":9.12e-4},
{"s":0.215,"k":17.6,"e":0.00102},{"s":0.24,"k":19.7,"e":0.00105},{"s":0.268,"k":22,"e":0.00099},{"s":0.299,"k":24.5,"e":0.00107},{"s":0.334,"k":27.4,"e":0.00097},{"s":0.373,"k":30.6,"e":0.00102},{"s":0.417,"k":34.2,"e":0.00105},{"s":0.465,"k":38.1,"e":0.00099},{"s":0.52,"k":42.6,"e":0.00107},{"s":0.585,"k":48,"e":0.00102},
{"s":0.253,"k":20.7,"e":0.00115},{"s":0.283,"k":23.2,"e":0.00112},{"s":0.316,"k":25.9,"e":0.00118},{"s":0.353,"k":28.9,"e":0.00109},{"s":0.394,"k":32.3,"e":0.00121},{"s":0.44,"k":36.1,"e":0.00115},{"s":0.49,"k":40.2,"e":0.00112},{"s":0.55,"k":45.1,"e":0.00118},{"s":0.61,"k":50,"e":0.00115},
{"s":0.27,"k":22.1,"e":0.00129},{"s":0.299,"k":24.5,"e":0.00133},{"s":0.334,"k":27.4,"e":0.00125},{"s":0.373,"k":30.6,"e":0.00136},{"s":0.417,"k":34.2,"e":0.00123},{"s":0.465,"k":38.1,"e":0.00129},{"s":0.52,"k":42.6,"e":0.00133},{"s":0.58,"k":47.6,"e":0.00125},
{"s":0.275,"k":22.6,"e":0.00145},{"s":0.316,"k":25.9,"e":0.00141},{"s":0.353,"k":28.9,"e":0.00149},{"s":0.394,"k":32.3,"e":0.00138},{"s":0.44,"k":36.1,"e":0.00152},{"s":0.49,"k":40.2,"e":0.00145},{"s":0.55,"k":45.1,"e":0.00141},{"s":0.61,"k":50,"e":0.00149},
{"s":0.28,"k":23,"e":0.00162},{"s":0.299,"k":24.5,"e":0.00167},{"s":0.334,"k":27.4,"e":0.00157},{"s":0.373,"k":30.6,"e":0.0017},{"s":0.417,"k":34.2,"e":0.00154},{"s":0.465,"k":38.1,"e":0.00162},{"s":0.52,"k":42.6,"e":0.00167},{"s":0.58,"k":47.6,"e":0.00157},{"s":0.645,"k":52.9,"e":0.00162},
{"s":0.283,"k":23.2,"e":0.00182},{"s":0.316,"k":25.9,"e":0.00177},{"s":0.353,"k":28.9,"e":0.00187},{"s":0.394,"k":32.3,"e":0.00173},{"s":0.44,"k":36.1,"e":0.00191},{"s":0.49,"k":40.2,"e":0.00182},{"s":0.55,"k":45.1,"e":0.00177},{"s":0.61,"k":50,"e":0.00187},{"s":0.68,"k":55.8,"e":0.00182},
{"s":0.299,"k":24.5,"e":0.00204},{"s":0.334,"k":27.4,"e":0.0021},{"s":0.373,"k":30.6,"e":0.00198},{"s":0.417,"k":34.2,"e":0.00214},{"s":0.465,"k":38.1,"e":0.00194},{"s":0.52,"k":42.6,"e":0.00204},{"s":0.58,"k":47.6,"e":0.0021},{"s":0.645,"k":52.9,"e":0.00198},{"s":0.7,"k":57.4,"e":0.00204},
{"s":0.316,"k":25.9,"e":0.00229},{"s":0.353,"k":28.9,"e":0.00222},{"s":0.394,"k":32.3,"e":0.00236},{"s":0.44,"k":36.1,"e":0.00218},{"s":0.49,"k":40.2,"e":0.0024},{"s":0.55,"k":45.1,"e":0.00229},{"s":0.61,"k":50,"e":0.00222},{"s":0.68,"k":55.8,"e":0.00236},
{"s":0.334,"k":27.4,"e":0.00257},{"s":0.373,"k":30.6,"e":0.00265},{"s":0.417,"k":34.2,"e":0.00249},{"s":0.465,"k":38.1,"e":0.0027},{"s":0.52,"k":42.6,"e":0.00244},{"s":0.58,"k":47.6,"e":0.00257},{"s":0.645,"k":52.9,"e":0.00265},{"s":0.73,"k":59.9,"e":0.00257},
{"s":0.394,"k":32.3,"e":0.00288},{"s":0.44,"k":36.1,"e":0.0028},{"s":0.49,"k":40.2,"e":0.00297},{"s":0.55,"k":45.1,"e":0.00274},{"s":0.61,"k":50,"e":0.00302},{"s":0.68,"k":55.8,"e":0.00288},{"s":0.76,"k":62.3,"e":0.0028},
{"s":0.417,"k":34.2,"e":0.00324},{"s":0.465,"k":38.1,"e":0.00334},{"s":0.52,"k":42.6,"e":0.00314},{"s":0.58,"k":47.6,"e":0.0034},{"s":0.72,"k":59,"e":0.00324},{"s":0.77,"k":63.1,"e":0.00334},
{"s":0.44,"k":36.1,"e":0.00363},{"s":0.49,"k":40.2,"e":0.00352},{"s":0.55,"k":45.1,"e":0.00374},{"s":0.61,"k":50,"e":0.00363},{"s":0.74,"k":60.7,"e":0.00352},{"s":0.79,"k":64.8,"e":0.00374},
{"s":0.43,"k":35.3,"e":0.00407},{"s":0.465,"k":38.1,"e":0.00419},{"s":0.52,"k":42.6,"e":0.00395},{"s":0.58,"k":47.6,"e":0.00427},{"s":0.75,"k":61.5,"e":0.00407},{"s":0.79,"k":64.8,"e":0.00419},
{"s":0.44,"k":36.1,"e":0.00457},{"s":0.5,"k":41,"e":0.00471},{"s":0.58,"k":47.6,"e":0.00445},{"s":0.72,"k":59,"e":0.00471},{"s":0.78,"k":64,"e":0.00445},
{"s":0.45,"k":36.9,"e":0.00513},{"s":0.46,"k":37.7,"e":0.00545},{"s":0.52,"k":42.6,"e":0.00528},{"s":0.55,"k":45.1,"e":0.00498},{"s":0.72,"k":59,"e":0.00513},{"s":0.78,"k":64,"e":0.00528},
{"s":0.45,"k":36.9,"e":0.00595},{"s":0.46,"k":37.7,"e":0.0062},{"s":0.55,"k":45.1,"e":0.00575},{"s":0.75,"k":61.5,"e":0.0062},{"s":0.79,"k":64.8,"e":0.00635},{"s":0.81,"k":66.4,"e":0.0064}
],
"lines":[{"series":"Weinstock","s":0.0414,"k":3.4,"e":1e-5},{"series":"Weinstock","s":9.77,"k":820,"e":0.565},{"series":"G Labitt","s":0.1156,"k":9.5,"e":1e-5},{"series":"G Labitt","s":5.31,"k":438,"e":1},{"series":"L = 25 m","s":0.0804,"k":6.6,"e":1e-5},{"series":"L = 25 m","s":3.7,"k":305,"e":1},{"series":"Numerical Model","s":0.0376,"k":3.09,"e":1e-5},{"series":"Numerical Model","s":0.344,"k":28.4,"e":9.12e-4},{"series":"Numerical Model","s":0.96,"k":79.2,"e":0.00871},{"series":"Numerical Model","s":1.6,"k":132,"e":0.0382},{"series":"Numerical Model","s":2.74,"k":226,"e":0.167},{"series":"Numerical Model","s":4.94,"k":408,"e":1}],
"band":[{"s":4.23,"k":349,"e":0.701},{"s":2.82,"k":233,"e":0.167},{"s":1.63,"k":134,"e":0.0382},{"s":0.969,"k":80,"e":0.00875},{"s":0.748,"k":61.7,"e":0.00327},{"s":0.494,"k":40.8,"e":0.001},{"s":0.381,"k":31.4,"e":3.41e-4}],
"band2":[{"s":3.45,"k":285,"e":0.3},{"s":2.82,"k":233,"e":0.167},{"s":1.63,"k":134,"e":0.0382},{"s":0.969,"k":80,"e":0.00875},{"s":0.79,"k":65.2,"e":0.0042}],
"marks":[{"kind":"square","s":0.0494,"k":4.05,"e":2.59e-5},{"kind":"square","s":0.177,"k":14.5,"e":3.58e-4},{"kind":"square","s":0.381,"k":31.3,"e":1.53e-3},{"kind":"triangle-up","s":0.381,"k":31,"e":4.72e-4},{"kind":"diamond","s":0.548,"k":45,"e":1.6e-3},{"kind":"triangle-up","s":0.505,"k":41.4,"e":1.11e-3},{"kind":"diamond","s":0.733,"k":60,"e":3.51e-3}],
"circ":[{"s":0.249,"k":20.4,"e":6.65e-4}]
},
"hconcat":[
{"width":666,"height":1171,"resolve":{"axis":{"x":"independent","y":"independent"}},"layer":[
{"data":{"name":"env"},"mark":{"type":"area","orient":"horizontal","color":"#16d8d2"},"encoding":{"y":{"field":"e","type":"quantitative","scale":{"type":"log","domain":[1e-5,1],"nice":false},"axis":null},"x":{"field":"s1","type":"quantitative","scale":{"type":"log","domain":[0.01,10],"nice":false},"axis":null},"x2":{"field":"s2"}}},
{"data":{"name":"band"},"mark":{"type":"line","color":"#ff0000","strokeWidth":6},"encoding":{
"x":{"field":"s","type":"quantitative","axis":{"orient":"bottom","title":"σ (m/s)","titleFontSize":36,"titleFontWeight":"normal","titlePadding":10,"values":[0.01,0.1,1,10],"labelExpr":"datum.value==0.01?'10⁻²':datum.value==0.1?'10⁻¹':datum.value==1?'10⁰':'10¹'","labelFontSize":29,"labelPadding":34,"labelOverlap":false,"labelFlush":false,"tickSize":-12,"tickColor":"#444","tickWidth":1.2,"domainColor":"#555","domainWidth":1.5,"grid":true,"gridColor":"#d8d8d8","gridWidth":1.5}},
"y":{"field":"e","type":"quantitative","axis":{"orient":"left","title":"ϵ (m²/s³)","titleFontSize":36,"titleFontWeight":"normal","titlePadding":8,"values":[1e-5,1e-4,1e-3,1e-2,0.1,1],"labelExpr":"datum.value==1?'10⁰':datum.value==0.1?'10⁻¹':datum.value==0.01?'10⁻²':datum.value==0.001?'10⁻³':datum.value==0.0001?'10⁻⁴':'10⁻⁵'","labelFontSize":29,"labelPadding":24,"labelOverlap":false,"labelFlush":false,"tickSize":-12,"tickColor":"#444","tickWidth":1.2,"domainColor":"#555","domainWidth":1.5,"grid":true,"gridColor":"#d8d8d8","gridWidth":1.5}}}},
{"data":{"name":"band2"},"mark":{"type":"line","color":"#ff0000","strokeWidth":16},"encoding":{
"x":{"field":"s","type":"quantitative","axis":{"orient":"bottom","title":null,"values":[0.02,0.03,0.04,0.05,0.06,0.07,0.08,0.09,0.2,0.3,0.4,0.5,0.6,0.7,0.8,0.9,2,3,4,5,6,7,8,9],"labels":false,"tickSize":-6,"tickColor":"#444","tickWidth":1.2,"domain":false,"grid":true,"gridColor":"#c4c4c4","gridDash":[2,7],"gridWidth":1.5}},
"y":{"field":"e","type":"quantitative","axis":{"orient":"left","title":null,"values":[2e-5,3e-5,4e-5,5e-5,6e-5,7e-5,8e-5,9e-5,2e-4,3e-4,4e-4,5e-4,6e-4,7e-4,8e-4,9e-4,2e-3,3e-3,4e-3,5e-3,6e-3,7e-3,8e-3,9e-3,0.02,0.03,0.04,0.05,0.06,0.07,0.08,0.09,0.2,0.3,0.4,0.5,0.6,0.7,0.8,0.9],"labels":false,"tickSize":-6,"tickColor":"#444","tickWidth":1.2,"domain":false,"grid":true,"gridColor":"#c4c4c4","gridDash":[2,7],"gridWidth":1.5}}}},
{"data":{"name":"pts"},"mark":{"type":"point","filled":true,"fill":"#12e6e0","fillOpacity":1,"stroke":"#0a2a2a","strokeWidth":1,"size":72},"encoding":{
"x":{"field":"s","type":"quantitative","axis":{"orient":"top","title":null,"values":[0.01,0.1,1,10],"labels":false,"tickSize":-12,"tickColor":"#444","tickWidth":1.2,"domainColor":"#555","domainWidth":1.5,"grid":false}},
"y":{"field":"e","type":"quantitative","axis":{"orient":"right","title":null,"values":[1e-5,1e-4,1e-3,1e-2,0.1,1],"labels":false,"tickSize":-12,"tickColor":"#444","tickWidth":1.2,"domainColor":"#555","domainWidth":1.5,"grid":false}}}},
{"data":{"name":"marks"},"mark":{"type":"point","filled":true,"fill":"#ff0000","fillOpacity":1,"strokeWidth":0,"size":500},"encoding":{
"shape":{"field":"kind","type":"nominal","scale":null,"legend":null},
"x":{"field":"s","type":"quantitative","axis":{"orient":"top","title":null,"values":[0.02,0.03,0.04,0.05,0.06,0.07,0.08,0.09,0.2,0.3,0.4,0.5,0.6,0.7,0.8,0.9,2,3,4,5,6,7,8,9],"labels":false,"tickSize":-6,"tickColor":"#444","tickWidth":1.2,"domain":false,"grid":false}},
"y":{"field":"e","type":"quantitative","axis":{"orient":"right","title":null,"values":[2e-5,3e-5,4e-5,5e-5,6e-5,7e-5,8e-5,9e-5,2e-4,3e-4,4e-4,5e-4,6e-4,7e-4,8e-4,9e-4,2e-3,3e-3,4e-3,5e-3,6e-3,7e-3,8e-3,9e-3,0.02,0.03,0.04,0.05,0.06,0.07,0.08,0.09,0.2,0.3,0.4,0.5,0.6,0.7,0.8,0.9],"labels":false,"tickSize":-6,"tickColor":"#444","tickWidth":1.2,"domain":false,"grid":false}}}},
{"data":{"name":"circ"},"mark":{"type":"point","shape":"circle","filled":true,"fill":"#ff0000","fillOpacity":1,"strokeWidth":0,"size":676},"encoding":{"x":{"field":"s","type":"quantitative","axis":null},"y":{"field":"e","type":"quantitative","axis":null}}},
{"data":{"name":"lines"},"mark":{"type":"line","strokeWidth":5.5},"encoding":{
"x":{"field":"s","type":"quantitative","axis":null},"y":{"field":"e","type":"quantitative","axis":null},
"order":{"field":"e"},
"color":{"field":"series","type":"nominal","scale":{"domain":["Weinstock","G Labitt","L = 25 m","Numerical Model"],"range":["#ff0000","#000000","#ff00e6","#0000f0"]},"legend":{"orient":"none","legendX":20,"legendY":19,"title":null,"symbolType":"stroke","symbolSize":2916,"symbolStrokeWidth":5,"clipHeight":32,"labelFontSize":26,"labelFont":"Liberation Sans","labelColor":"black","labelOffset":2,"rowPadding":0,"padding":6,"fillColor":"white","strokeColor":"#555","labelLimit":400}}}}
]},
{"width":666,"height":1171,"resolve":{"axis":{"x":"independent","y":"independent"}},"layer":[
{"data":{"name":"env"},"mark":{"type":"area","orient":"horizontal","color":"#16d8d2"},"encoding":{"y":{"field":"e","type":"quantitative","scale":{"type":"log","domain":[1e-5,1],"nice":false},"axis":null},"x":{"field":"k1","type":"quantitative","scale":{"type":"log","domain":[1,1000],"nice":false},"axis":null},"x2":{"field":"k2"}}},
{"data":{"name":"band"},"mark":{"type":"line","color":"#ff0000","strokeWidth":6},"encoding":{
"x":{"field":"k","type":"quantitative","axis":{"orient":"bottom","title":"1/kB (m)","titleFontSize":36,"titleFontWeight":"normal","titlePadding":10,"values":[1,10,100,1000],"labelExpr":"datum.value==1?'10⁰':datum.value==10?'10¹':datum.value==100?'10²':'10³'","labelFontSize":29,"labelPadding":34,"labelOverlap":false,"labelFlush":false,"tickSize":-12,"tickColor":"#444","tickWidth":1.2,"domainColor":"#555","domainWidth":1.5,"grid":true,"gridColor":"#d8d8d8","gridWidth":1.5}},
"y":{"field":"e","type":"quantitative","axis":{"orient":"left","title":"ϵ (m²/s³)","titleFontSize":36,"titleFontWeight":"normal","titlePadding":8,"values":[1e-5,1e-4,1e-3,1e-2,0.1,1],"labelExpr":"datum.value==1?'10⁰':datum.value==0.1?'10⁻¹':datum.value==0.01?'10⁻²':datum.value==0.001?'10⁻³':datum.value==0.0001?'10⁻⁴':'10⁻⁵'","labelFontSize":29,"labelPadding":24,"labelOverlap":false,"labelFlush":false,"tickSize":-12,"tickColor":"#444","tickWidth":1.2,"domainColor":"#555","domainWidth":1.5,"grid":true,"gridColor":"#d8d8d8","gridWidth":1.5}}}},
{"data":{"name":"band2"},"mark":{"type":"line","color":"#ff0000","strokeWidth":16},"encoding":{
"x":{"field":"k","type":"quantitative","axis":{"orient":"bottom","title":null,"values":[2,3,4,5,6,7,8,9,20,30,40,50,60,70,80,90,200,300,400,500,600,700,800,900],"labels":false,"tickSize":-6,"tickColor":"#444","tickWidth":1.2,"domain":false,"grid":true,"gridColor":"#c4c4c4","gridDash":[2,7],"gridWidth":1.5}},
"y":{"field":"e","type":"quantitative","axis":{"orient":"left","title":null,"values":[2e-5,3e-5,4e-5,5e-5,6e-5,7e-5,8e-5,9e-5,2e-4,3e-4,4e-4,5e-4,6e-4,7e-4,8e-4,9e-4,2e-3,3e-3,4e-3,5e-3,6e-3,7e-3,8e-3,9e-3,0.02,0.03,0.04,0.05,0.06,0.07,0.08,0.09,0.2,0.3,0.4,0.5,0.6,0.7,0.8,0.9],"labels":false,"tickSize":-6,"tickColor":"#444","tickWidth":1.2,"domain":false,"grid":true,"gridColor":"#c4c4c4","gridDash":[2,7],"gridWidth":1.5}}}},
{"data":{"name":"pts"},"mark":{"type":"point","filled":true,"fill":"#12e6e0","fillOpacity":1,"stroke":"#0a2a2a","strokeWidth":1,"size":72},"encoding":{
"x":{"field":"k","type":"quantitative","axis":{"orient":"top","title":null,"values":[1,10,100,1000],"labels":false,"tickSize":-12,"tickColor":"#444","tickWidth":1.2,"domainColor":"#555","domainWidth":1.5,"grid":false}},
"y":{"field":"e","type":"quantitative","axis":{"orient":"right","title":null,"values":[1e-5,1e-4,1e-3,1e-2,0.1,1],"labels":false,"tickSize":-12,"tickColor":"#444","tickWidth":1.2,"domainColor":"#555","domainWidth":1.5,"grid":false}}}},
{"data":{"name":"marks"},"mark":{"type":"point","filled":true,"fill":"#ff0000","fillOpacity":1,"strokeWidth":0,"size":500},"encoding":{
"shape":{"field":"kind","type":"nominal","scale":null,"legend":null},
"x":{"field":"k","type":"quantitative","axis":{"orient":"top","title":null,"values":[2,3,4,5,6,7,8,9,20,30,40,50,60,70,80,90,200,300,400,500,600,700,800,900],"labels":false,"tickSize":-6,"tickColor":"#444","tickWidth":1.2,"domain":false,"grid":false}},
"y":{"field":"e","type":"quantitative","axis":{"orient":"right","title":null,"values":[2e-5,3e-5,4e-5,5e-5,6e-5,7e-5,8e-5,9e-5,2e-4,3e-4,4e-4,5e-4,6e-4,7e-4,8e-4,9e-4,2e-3,3e-3,4e-3,5e-3,6e-3,7e-3,8e-3,9e-3,0.02,0.03,0.04,0.05,0.06,0.07,0.08,0.09,0.2,0.3,0.4,0.5,0.6,0.7,0.8,0.9],"labels":false,"tickSize":-6,"tickColor":"#444","tickWidth":1.2,"domain":false,"grid":false}}}},
{"data":{"name":"circ"},"mark":{"type":"point","shape":"circle","filled":true,"fill":"#ff0000","fillOpacity":1,"strokeWidth":0,"size":676},"encoding":{"x":{"field":"k","type":"quantitative","axis":null},"y":{"field":"e","type":"quantitative","axis":null}}},
{"data":{"name":"lines"},"mark":{"type":"line","strokeWidth":5.5},"encoding":{
"x":{"field":"k","type":"quantitative","axis":null},"y":{"field":"e","type":"quantitative","axis":null},
"order":{"field":"e"},
"color":{"field":"series","type":"nominal","scale":{"domain":["Weinstock","G Labitt","L = 25 m","Numerical Model"],"range":["#ff0000","#000000","#ff00e6","#0000f0"]},"legend":{"orient":"none","legendX":20,"legendY":19,"title":null,"symbolType":"stroke","symbolSize":2916,"symbolStrokeWidth":5,"clipHeight":32,"labelFontSize":26,"labelFont":"Liberation Sans","labelColor":"black","labelOffset":2,"rowPadding":0,"padding":6,"fillColor":"white","strokeColor":"#555","labelLimit":400}}}}
]}
],"resolve":{"scale":{"color":"independent"},"legend":{"color":"independent"}}}
